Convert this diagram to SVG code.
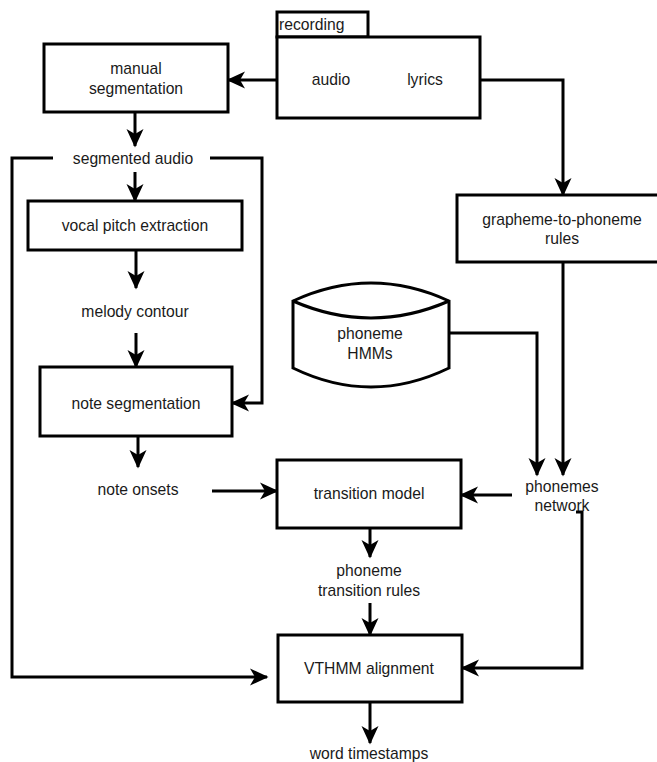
<svg xmlns="http://www.w3.org/2000/svg" width="657" height="762" viewBox="0 0 657 762">
<defs>
<style>
.box{fill:#fff;stroke:#000;stroke-width:3}
.ln{fill:none;stroke:#000;stroke-width:3;marker-end:url(#ar)}
.pl{fill:none;stroke:#000;stroke-width:3}
text{font-family:"Liberation Sans",Arial,sans-serif;font-size:15.7px;fill:#1a1a1a;text-anchor:middle}
</style>
<marker id="ar" markerUnits="userSpaceOnUse" markerWidth="24" markerHeight="24" viewBox="-20 -12 24 24" refX="0" refY="0" orient="auto">
<path d="M1.5,0 L-17,-8.5 L-12,0 L-17,8.5 Z" fill="#000"/>
</marker>
</defs>
<rect width="657" height="762" fill="#fff"/>
<g id="connectors">
<path class="ln" d="M293,80 H228"/>
<path class="ln" d="M463,80 H563 V195"/>
<path class="ln" d="M135,112 V146"/>
<path class="ln" d="M135,172 V201"/>
<path class="ln" d="M136,250 V288"/>
<path class="ln" d="M136,333 V367"/>
<path class="ln" d="M138,436 V467"/>
<path class="ln" d="M212,491 H277"/>
<path class="ln" d="M210,158 H262 V403 H232"/>
<path class="ln" d="M53,158 H12 V677 H267"/>
<path class="ln" d="M449,333 H537 V475"/>
<path class="ln" d="M563,262 V475"/>
<path class="ln" d="M512,495 H461"/>
<path class="ln" d="M576,512 H582 V668 H462"/>
<path class="ln" d="M370,528 V557"/>
<path class="ln" d="M370,603 V635"/>
<path class="ln" d="M370,702 V743"/>
</g>
<g id="recording">
<rect class="box" x="277" y="12" width="91" height="25"/>
<rect class="box" x="277" y="37" width="203" height="81"/>
<text x="279" y="30" style="text-anchor:start">recording</text>
<text x="331" y="85">audio</text>
<text x="425" y="85">lyrics</text>
</g>
<g id="manual-segmentation">
<rect class="box" x="44" y="44" width="184" height="68"/>
<text x="136" y="74">manual</text>
<text x="136" y="94">segmentation</text>
</g>
<g id="segmented-audio">
<text x="133" y="164">segmented audio</text>
</g>
<g id="vocal-pitch-extraction">
<rect class="box" x="28" y="201" width="214" height="49"/>
<text x="135" y="231">vocal pitch extraction</text>
</g>
<g id="melody-contour">
<text x="135" y="317">melody contour</text>
</g>
<g id="note-segmentation">
<rect class="box" x="40" y="367" width="192" height="69"/>
<text x="136" y="409">note segmentation</text>
</g>
<g id="note-onsets">
<text x="138" y="495">note onsets</text>
</g>
<g id="grapheme-to-phoneme">
<rect class="box" x="457" y="195" width="211" height="67"/>
<text x="562" y="225">grapheme-to-phoneme</text>
<text x="562" y="244">rules</text>
</g>
<g id="phoneme-hmms">
<path class="box" d="M293,301 Q371,265 449,301 V368 Q371,406 293,368 Z"/>
<path class="pl" d="M293,301 Q371,335 449,301"/>
<text x="370" y="339">phoneme</text>
<text x="370" y="359">HMMs</text>
</g>
<g id="phonemes-network">
<text x="562" y="492">phonemes</text>
<text x="562" y="511">network</text>
</g>
<g id="transition-model">
<rect class="box" x="277" y="460" width="184" height="68"/>
<text x="369" y="499">transition model</text>
</g>
<g id="phoneme-transition-rules">
<text x="369" y="576">phoneme</text>
<text x="369" y="596">transition rules</text>
</g>
<g id="vthmm-alignment">
<rect class="box" x="278" y="635" width="184" height="67"/>
<text x="369" y="674">VTHMM alignment</text>
</g>
<g id="word-timestamps">
<text x="369" y="759">word timestamps</text>
</g>
</svg>
